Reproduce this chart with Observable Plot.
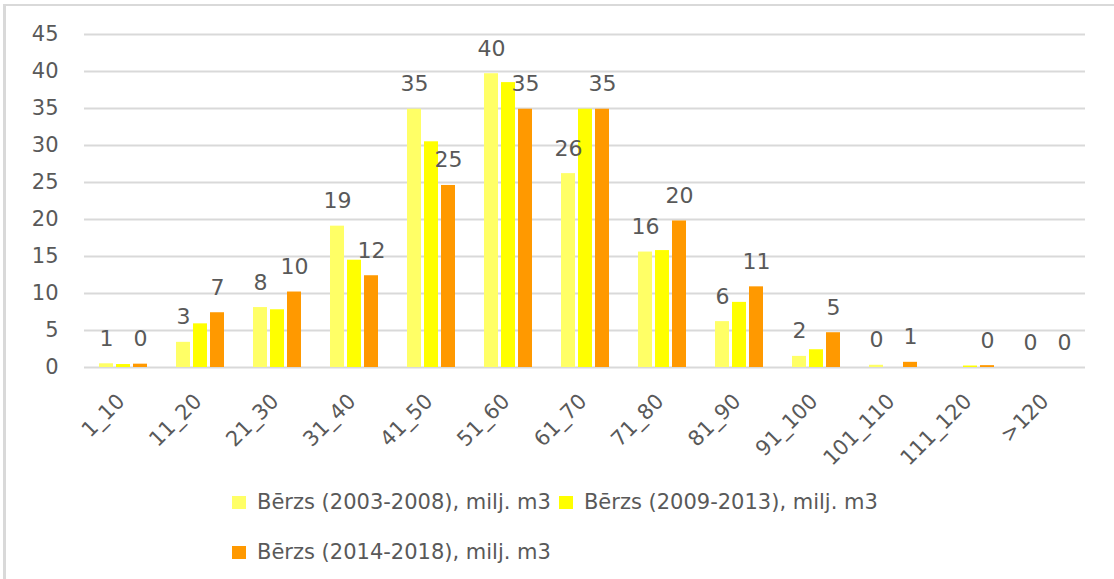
<!DOCTYPE html>
<html>
<head>
<meta charset="utf-8">
<script src="https://cdn.jsdelivr.net/npm/d3@7"></script>
<script src="https://cdn.jsdelivr.net/npm/@observablehq/plot@0.6"></script>
<style>
  html, body { margin: 0; padding: 0; background: #fff; }
  body { width: 1114px; height: 579px; position: relative; overflow: hidden; font-family: "DejaVu Sans", sans-serif; }
  #frame { position: absolute; left: 3px; top: 4px; right: -10px; bottom: -10px; border-left: 3px solid #d9d9d9; border-top: 2px solid #d9d9d9; }
  #chart { position: absolute; left: 0; top: 0; }
  #legend { position: absolute; left: 232px; top: 477px; width: 700px; display: flex; flex-wrap: wrap; column-gap: 8px; }
  .item { height: 50px; display: flex; align-items: center; font-size: 21px; color: #595959; white-space: nowrap; }
  .sw { width: 14px; height: 13px; margin-right: 11px; }
</style>
</head>
<body>
<div id="frame"></div>
<div id="chart"></div>
<div id="legend"></div>
<script>
const categories = ["1_10","11_20","21_30","31_40","41_50","51_60","61_70","71_80","81_90","91_100","101_110","111_120",">120"];
const seriesNames = ["Bērzs (2003-2008), milj. m3","Bērzs (2009-2013), milj. m3","Bērzs (2014-2018), milj. m3"];
const seriesColors = ["#ffff66","#ffff00","#ff9900"];
const s2003 = [0.5, 3.4, 8.1, 19.1, 34.9, 39.7, 26.2, 15.6, 6.2, 1.5, 0.3, null, 0];
const s2009 = [0.4, 5.9, 7.8, 14.5, 30.5, 38.5, 34.9, 15.8, 8.8, 2.4, 0, 0.2, 0];
const s2014 = [0.45, 7.4, 10.2, 12.4, 24.6, 34.9, 34.9, 19.8, 10.9, 4.7, 0.7, 0.25, 0];
const labelledSeries = [seriesNames[0], seriesNames[2]];
const yTicks = [0,5,10,15,20,25,30,35,40,45];

const seriesValues = [s2003, s2009, s2014];
const data = [];
categories.forEach((c, i) => {
  seriesNames.forEach((s, j) => {
    data.push({cat: c, series: s, value: seriesValues[j][i]});
  });
});
const labelData = data.filter(d => labelledSeries.includes(d.series) && d.value != null);

const plot = Plot.plot({
  width: 1114,
  height: 470,
  marginLeft: 79,
  marginRight: 25,
  marginTop: 34,
  marginBottom: 103,
  style: {fontFamily: "'DejaVu Sans', sans-serif", fontSize: "21px", color: "#595959", background: "transparent", overflow: "visible"},
  fx: {domain: categories, padding: 0, axis: null, label: null},
  x: {domain: seriesNames, paddingInner: 0.2, paddingOuter: 0.82, axis: null},
  y: {domain: [0, 45], ticks: yTicks, tickSize: 0, tickPadding: 26, label: null},
  color: {domain: seriesNames, range: seriesColors},
  marks: [
    Plot.gridY(yTicks, {stroke: "#d9d9d9", strokeOpacity: 1, strokeWidth: 2}),
    Plot.barY(data.filter(d => d.value != null), {fx: "cat", x: "series", y: "value", fill: "series"}),
    Plot.text(labelData, {fx: "cat", x: "series", y: "value", text: d => String(Math.round(d.value)), dy: -18, lineAnchor: "bottom", fill: "#595959", fontSize: 22}),
    Plot.text(categories, {fx: d => d, text: d => d, frameAnchor: "bottom", rotate: -45, textAnchor: "end", dy: 35, dx: 3, fill: "#595959", fontSize: 21})
  ]
});
document.getElementById("chart").appendChild(plot);

const legend = document.getElementById("legend");
seriesNames.forEach((s, j) => {
  const item = document.createElement("div");
  item.className = "item";
  const sw = document.createElement("span");
  sw.className = "sw";
  sw.style.background = seriesColors[j];
  const t = document.createElement("span");
  t.textContent = s;
  item.appendChild(sw);
  item.appendChild(t);
  legend.appendChild(item);
});
</script>
</body>
</html>
